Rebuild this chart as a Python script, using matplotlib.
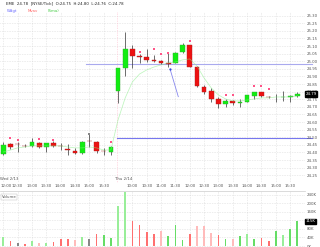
import numpy as np
import matplotlib
matplotlib.use("Agg")
import matplotlib.pyplot as plt
from matplotlib.transforms import ScaledTranslation

# 15 minute bars, last part of Wed and full Thu session
opens = [24.390, 24.456, 24.456, 24.443, 24.443, 24.464, 24.434, 24.464, 24.443, 24.421,
         24.412, 24.395, 24.476, 24.471, 24.410, 24.405,
         24.807, 24.954, 25.079, 25.037, 25.026, 25.005, 25.002, 24.986, 24.991, 25.059,
         25.107, 24.964, 24.833, 24.807, 24.750, 24.717, 24.739, 24.724, 24.734, 24.774,
         24.796, 24.765, 24.763, 24.762, 24.765, 24.772]
highs = [24.471, 24.463, 24.471, 24.456, 24.493, 24.471, 24.464, 24.476, 24.461, 24.454,
         24.428, 24.474, 24.525, 24.476, 24.428, 24.443,
         24.956, 25.193, 25.107, 25.048, 25.081, 25.041, 25.011, 25.053, 25.061, 25.118,
         25.110, 24.969, 24.844, 24.822, 24.767, 24.750, 24.745, 24.750, 24.780, 24.798,
         24.798, 24.772, 24.785, 24.807, 24.778, 24.800]
lows = [24.384, 24.423, 24.403, 24.434, 24.438, 24.430, 24.405, 24.438, 24.416, 24.384,
        24.388, 24.392, 24.438, 24.399, 24.384, 24.384,
        24.726, 24.903, 24.958, 24.989, 24.993, 24.995, 24.982, 24.964, 24.986, 25.055,
        24.962, 24.833, 24.785, 24.734, 24.691, 24.701, 24.713, 24.701, 24.734, 24.750,
        24.765, 24.759, 24.734, 24.741, 24.734, 24.763]
closes = [24.449, 24.438, 24.453, 24.441, 24.471, 24.434, 24.461, 24.443, 24.441, 24.414,
          24.395, 24.471, 24.473, 24.412, 24.408, 24.434,
          24.954, 25.079, 25.037, 25.026, 25.009, 25.002, 24.987, 24.982, 25.057, 25.107,
          24.964, 24.839, 24.800, 24.750, 24.717, 24.741, 24.724, 24.734, 24.778, 24.796,
          24.774, 24.762, 24.763, 24.765, 24.768, 24.785]
volumes = [40000, 24400, 12400, 7800, 23000, 12400, 15200, 17000, 32200, 32200,
           27600, 40000, 32200, 55200, 50600, 35400,
           185300, 252900, 115000, 96600, 65800, 58400, 69000, 46000, 99800, 27600,
           55200, 92000, 93300, 61200, 50600, 30800, 30800, 46000, 55200, 30800,
           38200, 24400, 70400, 53800, 78200, 115000]
vol_colors = ['lg', 'r', 'k', 'r', 'lg', 'p', 'lg', 'r', 'r', 'r', 'p', 'lg', 'k', 'r', 'g', 'g',
              'lg', 'lg', 'r', 'r', 'r', 'r', 'p', 'g', 'g', 'g', 'r', 'p', 'p', 'p', 'r', 'g',
              'p', 'g', 'lg', 'g', 'r', 'r', 'g', 'lg', 'g', 'g']
moving_avg = [24.403, 24.416, 24.430, 24.436, 24.443, 24.443, 24.443, 24.443, 24.443, 24.436,
              24.430, 24.430, 24.436, 24.430, 24.416, 24.416,
              24.614, 24.759, 24.864, 24.916, 24.943, 24.962, 24.976, 24.989, 24.995, 25.009,
              25.015, 24.969, 24.890, 24.824, 24.778, 24.752, 24.739, 24.739, 24.745, 24.752,
              24.759, 24.759, 24.765, 24.765, 24.765, 24.772]

# small signal markers above bars
mark_bars = [1, 2, 5, 7, 15, 19, 21, 22, 23, 26, 31, 32, 35, 36, 37]
mark_prices = [24.495, 24.482, 24.487, 24.482, 24.471, 25.063, 25.079, 25.046, 25.057, 25.136,
               24.778, 24.778, 24.838, 24.838, 24.816]
grey_mark_bars = [12]
grey_mark_prices = [24.522]

trend_x = [23.25, 24.4]
trend_y = [24.949, 24.767]
upper_level, upper_start = 24.985, 11.5
lower_level, lower_start = 24.495, 15.9

time_ticks = [0, 2, 4, 6, 8, 10, 12, 14, 18, 20, 22, 24, 26, 28, 30, 32, 34, 36, 38, 40]
time_labels = ['12:00', '12:30', '13:00', '13:30', '14:00', '14:30', '15:00', '15:30',
               '10:00', '10:30', '11:00', '11:30', '12:00', '12:30', '13:00', '13:30',
               '14:00', '14:30', '15:00', '15:30']
day_labels = ['Wed 2/13', 'Thu 2/14']
day_starts = [0, 16]

x = np.arange(len(closes))
o = np.array(opens); c = np.array(closes)

fig = plt.figure(figsize=(3.2, 2.47), dpi=100)
ax = fig.add_axes([0.0, 1 - 183 / 247, 305 / 320, 171 / 247])
axv = fig.add_axes([0.0, 0.0, 305 / 320, 56 / 247])

fs = 2.8
grid_kw = dict(color='#c8c8c8', lw=0.4, ls=(0, (1, 2)))

# main price panel
ax.set_xlim(-0.46, 42.07)
ax.set_ylim(24.199, 25.324)
yt = np.round(np.arange(24.25, 25.301, 0.05), 2)
ax.set_yticks(yt)
ax.set_yticklabels(['%.2f' % v for v in yt])
ax.yaxis.tick_right()
ax.set_xticks(time_ticks)
ax.set_xticklabels(time_labels)
ax.tick_params(length=0, labelsize=fs, pad=1, colors='#555555')
first = ax.get_xticklabels()[0]
first.set_transform(first.get_transform() + ScaledTranslation(2.5 / 100, 0, fig.dpi_scale_trans))
for s in ax.spines.values():
    s.set_visible(False)
for t in yt:
    ax.axhline(t, zorder=0, **grid_kw)
for t in time_ticks:
    ax.axvline(t, zorder=0, **grid_kw)
ax.axvline(15.9, color='#ffbbcc', lw=0.5, ls=(0, (1, 1.5)), zorder=0)

ax.vlines(x, lows, highs, color='#333333', lw=0.5, zorder=2)
up = c > o
down = c < o
flat = ~(up | down)
body_lo = np.minimum(o, c)
body_h = np.maximum(np.abs(c - o), 0.004)
ax.bar(x[up], body_h[up], bottom=body_lo[up], width=0.66, color='#11ee11',
       edgecolor='#33aa33', lw=0.3, zorder=3)
ax.bar(x[down], body_h[down], bottom=body_lo[down], width=0.66, color='#ee1111',
       edgecolor='#aa2222', lw=0.3, zorder=3)
ax.bar(x[flat], body_h[flat], bottom=body_lo[flat], width=0.66, color='#777777',
       lw=0, zorder=3)

ax.plot(x, moving_avg, color='#88ee88', lw=0.55, alpha=0.55, zorder=4)
ax.scatter(mark_bars, mark_prices, s=1.6, marker='s', color='#ff5588', lw=0, zorder=5)
ax.scatter(grey_mark_bars, grey_mark_prices, s=1.6, marker='s', color='#888888', lw=0, zorder=5)

ax.plot([upper_start, 43], [upper_level, upper_level], color='#aaaaee', lw=0.8,
        zorder=1, clip_on=False)
ax.plot([lower_start, 43], [lower_level, lower_level], color='#7777ee', lw=0.8,
        zorder=1, clip_on=False)
ax.plot(trend_x, trend_y, color='#8888ee', lw=0.6, zorder=5)
ax.scatter(trend_x[:1], trend_y[:1], s=2.5, color='#3344dd', lw=0, zorder=6)

for d, lab in zip(day_starts, day_labels):
    ax.text(d - 0.4, 24.215, lab, fontsize=fs, color='#555555', va='bottom', ha='left')

ax.text(1.002, closes[-1], '%.2f' % closes[-1], transform=ax.get_yaxis_transform(),
        fontsize=fs, color='white', va='center', ha='left', zorder=10,
        bbox=dict(boxstyle='square,pad=0.15', fc='black', ec='black'))

# volume panel
vc = {'lg': '#99ee99', 'g': '#66dd66', 'r': '#ff7070', 'p': '#ffbbbb', 'k': '#888888'}
axv.set_xlim(-0.46, 42.07)
axv.set_ylim(-4600, 257500)
axv.bar(x, volumes, width=0.24, color=[vc[k] for k in vol_colors], zorder=2)
vt = np.arange(0, 240001, 40000)
axv.set_yticks(vt)
axv.set_yticklabels(['%dK' % (v // 1000) for v in vt])
axv.yaxis.tick_right()
axv.set_xticks(time_ticks)
axv.set_xticklabels([])
axv.tick_params(length=0, labelsize=fs, pad=1, colors='#555555')
for s in axv.spines.values():
    s.set_visible(False)
axv.spines['top'].set_visible(True)
axv.spines['top'].set_color('#cccccc')
axv.spines['top'].set_linewidth(0.5)
for t in vt:
    axv.axhline(t, zorder=0, **grid_kw)
for t in time_ticks:
    axv.axvline(t, zorder=0, **grid_kw)
axv.text(0.005, 0.93, 'Volume', transform=axv.transAxes, fontsize=fs, color='#555555',
         va='top', bbox=dict(boxstyle='square,pad=0.2', fc='white', ec='#bbbbbb', lw=0.3))
axv.text(1.002, volumes[-1], '%dK' % (volumes[-1] // 1000), transform=axv.get_yaxis_transform(),
         fontsize=fs, color='white', va='center', ha='left', zorder=10,
         bbox=dict(boxstyle='square,pad=0.15', fc='black', ec='black'))

# header
fig.text(0.02, 0.995, 'EME  24.78  [NYSE/Tick]  O:24.75  H:24.80  L:24.76  C:24.78',
         fontsize=fs, color='#222222', va='top')
fig.text(0.02, 0.965, 'Wdgt', fontsize=fs, color='#6666ff', va='top')
fig.text(0.085, 0.965, 'Mvav', fontsize=fs, color='#ff6666', va='top')
fig.text(0.15, 0.965, '(Sma)', fontsize=fs, color='#44cc44', va='top')

fig.savefig('out.png', dpi=100)
